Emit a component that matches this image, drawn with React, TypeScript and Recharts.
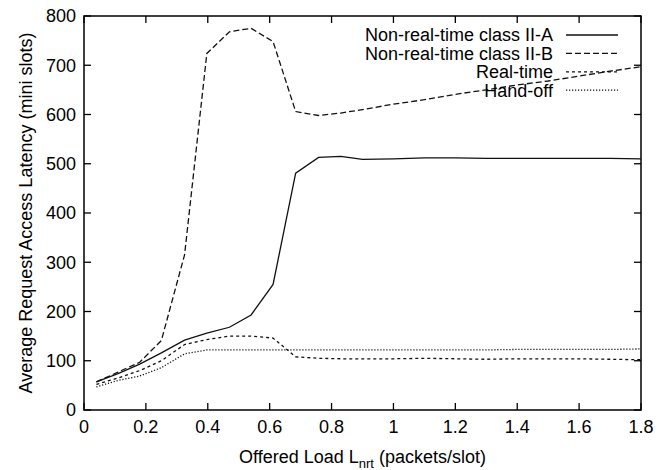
import React from 'react';
import { LineChart, Line, XAxis, YAxis, Legend, ReferenceArea } from 'recharts';

// Offered load L_nrt (packets/slot)
const loads = [0.04, 0.11, 0.18, 0.25, 0.325, 0.397, 0.47, 0.54, 0.611, 0.684, 0.758, 0.83, 0.9, 1.0, 1.1, 1.2, 1.3, 1.4, 1.5, 1.6, 1.7, 1.8];

// Average request access latency (mini slots)
const classIIA = [57, 74, 93, 116, 142, 156, 168, 193, 255, 481, 513, 515, 509, 510, 512, 512, 511, 511, 511, 511, 511, 510];
const classIIB = [57, 77, 97, 141, 315, 724, 768, 775, 748, 606, 598, 603, 610, 621, 630, 641, 650, 660, 668, 678, 688, 697];
const realTime = [52, 65, 80, 100, 133, 143, 150, 150, 146, 108, 105, 104, 104, 104, 105, 104, 103, 104, 104, 104, 103, 102];
const handOff = [47, 60, 69, 86, 114, 122, 122, 122, 122, 122, 122, 122, 122, 122, 122, 122, 122, 123, 123, 123, 123, 124];

const xTicks = [0, 0.2, 0.4, 0.6, 0.8, 1, 1.2, 1.4, 1.6, 1.8];
const yTicks = [0, 100, 200, 300, 400, 500, 600, 700, 800];

const seriesInfo = [
  { key: 'iia', name: 'Non-real-time class II-A', dash: undefined },
  { key: 'iib', name: 'Non-real-time class II-B', dash: '6 3' },
  { key: 'rt', name: 'Real-time', dash: '3 3' },
  { key: 'ho', name: 'Hand-off', dash: '1.2 1.8' },
];

const data = loads.map((x, i) => ({
  x,
  iia: classIIA[i],
  iib: classIIB[i],
  rt: realTime[i],
  ho: handOff[i],
}));

const W = 664;
const H = 470;
const LEFT = 84;
const RIGHT = 641;
const TOP = 16;
const BOTTOM = 410;
const X_AXIS_H = 30;
const FONT = '"Liberation Sans", Arial, Helvetica, sans-serif';
const TICK = 7;

const XTick = (props: any) => {
  const { x, payload } = props;
  return (
    <g>
      <line x1={x} y1={BOTTOM} x2={x} y2={BOTTOM - TICK} stroke="#000" strokeWidth={1.3} />
      <line x1={x} y1={TOP} x2={x} y2={TOP + TICK} stroke="#000" strokeWidth={1.3} />
      <text x={x} y={BOTTOM + 10} dy="0.71em" textAnchor="middle" fontSize={18} fontFamily={FONT} fill="#000">
        {payload.value}
      </text>
    </g>
  );
};

const YTick = (props: any) => {
  const { y, payload } = props;
  return (
    <g>
      <line x1={LEFT} y1={y} x2={LEFT + TICK} y2={y} stroke="#000" strokeWidth={1.3} />
      <line x1={RIGHT} y1={y} x2={RIGHT - TICK} y2={y} stroke="#000" strokeWidth={1.3} />
      <text x={LEFT - 8} y={y} dy="0.35em" textAnchor="end" fontSize={18} fontFamily={FONT} fill="#000">
        {payload.value}
      </text>
    </g>
  );
};

const renderLegend = () => (
  <svg width={W} height={110}>
    {seriesInfo.map((s, i) => {
      const cy = 35 + i * 18.4;
      return (
        <g key={s.key}>
          <text x={553} y={cy} dy="0.35em" textAnchor="end" fontSize={18} fontFamily={FONT} fill="#000">
            {s.name}
          </text>
          <line x1={566} y1={cy} x2={618} y2={cy} stroke="#111" strokeWidth={1.3} strokeDasharray={s.dash} />
        </g>
      );
    })}
  </svg>
);

const App: React.FC = () => {
  return (
    <div style={{ position: 'absolute', left: 0, top: 0, width: W, height: H, background: '#fff' }}>
      <LineChart
        width={W}
        height={H}
        data={data}
        margin={{ top: TOP, right: W - RIGHT, bottom: H - BOTTOM - X_AXIS_H, left: 0 }}
      >
        <ReferenceArea x1={0} x2={1.8} y1={0} y2={800} fill="none" stroke="#000" strokeWidth={1.5} ifOverflow="visible" />
        <XAxis
          dataKey="x"
          type="number"
          height={X_AXIS_H}
          domain={[0, 1.8]}
          ticks={xTicks}
          axisLine={false}
          tickLine={false}
          tick={<XTick />}
          interval={0}
          label={() => (
            <text x={(LEFT + RIGHT) / 2} y={463} textAnchor="middle" fontSize={18} fontFamily={FONT} fill="#000">
              Offered Load L
              <tspan fontSize={13} dy={5}>nrt</tspan>
              <tspan dy={-5}> (packets/slot)</tspan>
            </text>
          )}
        />
        <YAxis
          type="number"
          width={LEFT}
          domain={[0, 800]}
          ticks={yTicks}
          axisLine={false}
          tickLine={false}
          tick={<YTick />}
          interval={0}
          label={() => (
            <text
              x={26}
              y={(TOP + BOTTOM) / 2}
              transform={`rotate(-90, 26, ${(TOP + BOTTOM) / 2})`}
              textAnchor="middle"
              dy="0.35em"
              fontSize={18}
              fontFamily={FONT}
              fill="#000"
            >
              Average Request Access Latency (mini slots)
            </text>
          )}
        />
        <Legend
          layout="horizontal"
          verticalAlign="middle"
          align="center"
          content={renderLegend}
          wrapperStyle={{ position: 'absolute', left: 0, top: 0, width: W, height: 110 }}
        />
        {seriesInfo.map((s) => (
          <Line
            key={s.key}
            type="linear"
            dataKey={s.key}
            name={s.name}
            stroke="#111"
            strokeWidth={1.3}
            strokeDasharray={s.dash}
            dot={false}
            activeDot={false}
            isAnimationActive={false}
          />
        ))}
      </LineChart>
    </div>
  );
};

export default App;
